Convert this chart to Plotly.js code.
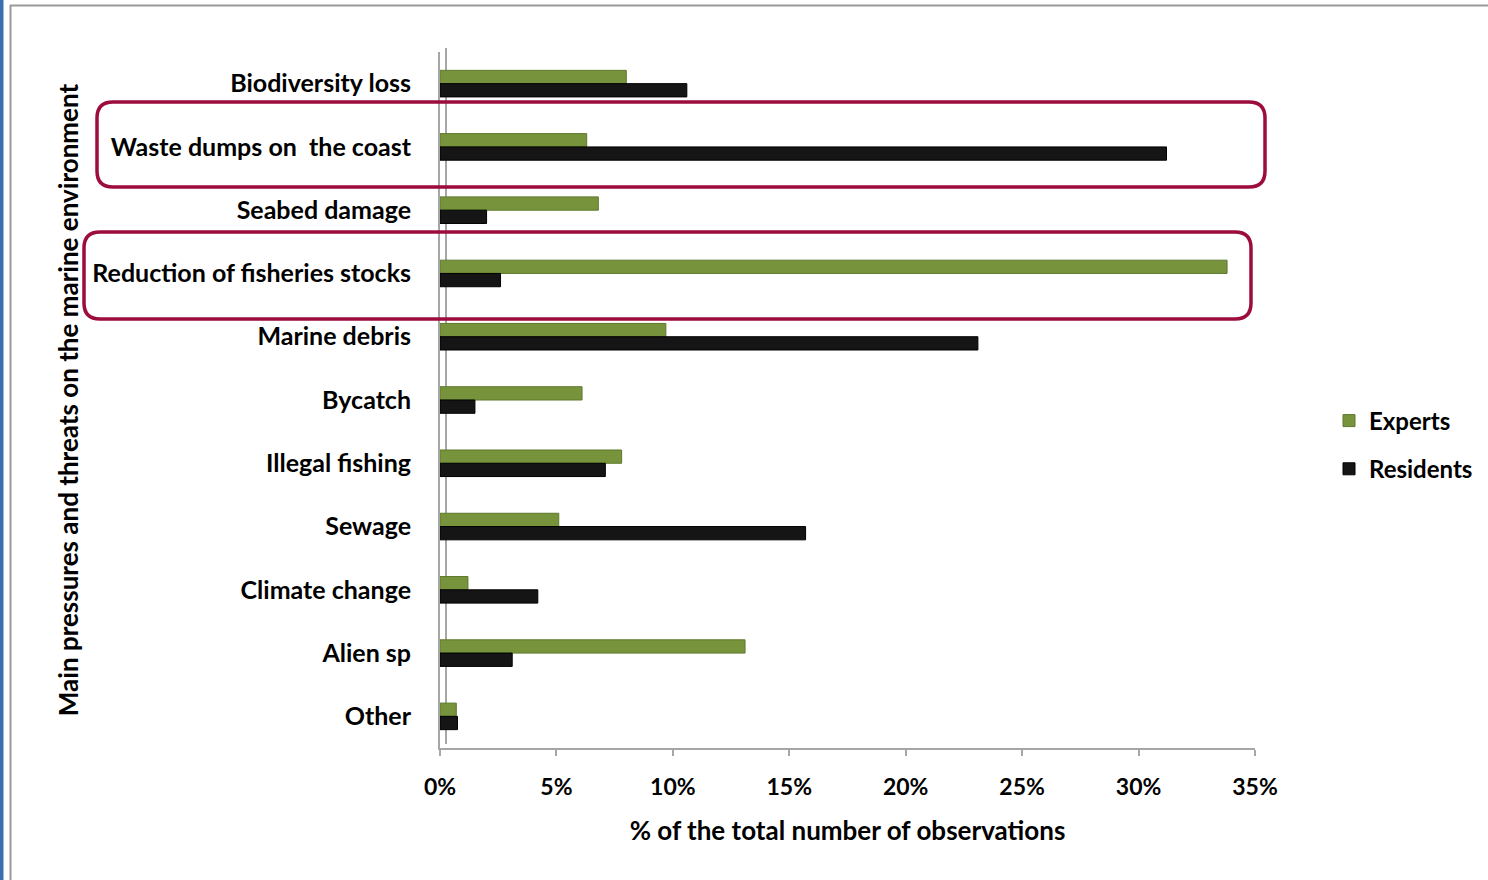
<!DOCTYPE html>
<html>
<head>
<meta charset="utf-8">
<script src="https://cdn.plot.ly/plotly-3.0.1.min.js"></script>
<style>html,body{margin:0;padding:0;background:#fff;}#chart{width:1488px;height:880px;}</style>
</head>
<body>
<div id="chart"></div>
<script>
const categories = ["Biodiversity loss","Waste dumps on  the coast","Seabed damage","Reduction of fisheries stocks","Marine debris","Bycatch","Illegal fishing","Sewage","Climate change","Alien sp","Other"];
const experts = [8.0, 6.3, 6.8, 33.8, 9.7, 6.1, 7.8, 5.1, 1.2, 13.1, 0.7];
const residents = [10.6, 31.2, 2.0, 2.6, 23.1, 1.5, 7.1, 15.7, 4.2, 3.1, 0.75];
const xTickVals = [0, 5, 10, 15, 20, 25, 30, 35];
const xTickText = ["0%", "5%", "10%", "15%", "20%", "25%", "30%", "35%"];

const W = 1488, H = 880;
const M = {l: 440, r: 233, t: 52, b: 132};
const PW = W - M.l - M.r, PH = H - M.t - M.b;
const px = x => (x - M.l) / PW;
const py = y => 1 - (y - M.t) / PH;

function roundRect(x0, y0, x1, y1, r) {
  const pts = [
    ['M', x0 + r, y0], ['L', x1 - r, y0], ['Q', x1, y0, x1, y0 + r],
    ['L', x1, y1 - r], ['Q', x1, y1, x1 - r, y1], ['L', x0 + r, y1],
    ['Q', x0, y1, x0, y1 - r], ['L', x0, y0 + r], ['Q', x0, y0, x0 + r, y0]
  ];
  return pts.map(p => {
    const c = p[0]; const a = p.slice(1);
    let s = c;
    for (let i = 0; i < a.length; i += 2) s += ' ' + px(a[i]).toFixed(5) + ',' + py(a[i + 1]).toFixed(5);
    return s;
  }).join(' ') + ' Z';
}

const font = "Lato, 'Open Sans', sans-serif";
const red = '#9c0c3c';

const data = [
  {type: 'bar', orientation: 'h', name: 'Experts', y: categories, x: experts, legendgroup: 'e',
   marker: {color: '#77933c', line: {color: '#5e7a2c', width: 1}}},
  {type: 'bar', orientation: 'h', name: 'Residents', y: categories, x: residents, legendgroup: 'r',
   marker: {color: '#151515', line: {color: '#000', width: 1}}}
];

const layout = {
  width: W, height: H,
  margin: M,
  paper_bgcolor: '#fff', plot_bgcolor: '#fff',
  barmode: 'group', bargap: 0.58, bargroupgap: 0,
  font: {family: font, color: '#000'},
  xaxis: {
    range: [0, 35], tickvals: xTickVals, ticktext: xTickText,
    showgrid: false, zeroline: false,
    showline: true, linecolor: '#a6a6a6', linewidth: 2,
    ticks: 'outside', ticklen: 6, tickcolor: '#a6a6a6', tickwidth: 2,
    ticklabelstandoff: 11,
    tickfont: {family: font, size: 23, weight: 'bold', color: '#000'},
    title: {text: '% of the total number of observations', standoff: 23,
            font: {family: font, size: 26, weight: 'bold', color: '#000'}}
  },
  yaxis: {
    autorange: 'reversed', type: 'category',
    showgrid: false, zeroline: false,
    showline: true, linecolor: '#a6a6a6', linewidth: 2,
    ticks: '', ticklabelstandoff: 22,
    tickfont: {family: font, size: 25, weight: 'bold', color: '#000'},
    title: {text: 'Main pressures and threats on the marine environment', standoff: 6,
            font: {family: font, size: 26, weight: 'bold', color: '#000'}}
  },
  legend: {xref: 'container', yref: 'container', x: 1329 / W, y: 1 - 445 / H, xanchor: 'left', yanchor: 'middle',
           font: {family: font, size: 24, weight: 'bold', color: '#000'},
           traceorder: 'grouped', tracegroupgap: 14, bgcolor: 'rgba(0,0,0,0)'},
  shapes: [
    {type: 'path', xref: 'paper', yref: 'paper', path: roundRect(97, 102, 1265, 187, 16), line: {color: red, width: 3.5}},
    {type: 'path', xref: 'paper', yref: 'paper', path: roundRect(84, 232, 1251, 319, 16), line: {color: red, width: 3.5}},
    {type: 'line', layer: 'below', xref: 'paper', yref: 'paper', x0: px(446), x1: px(446), y0: py(48), y1: py(744), line: {color: '#a6a6a6', width: 2}},
    {type: 'line', xref: 'paper', yref: 'paper', x0: px(1.5), x1: px(1.5), y0: py(0), y1: py(880), line: {color: '#3a6fb0', width: 4}},
    {type: 'line', xref: 'paper', yref: 'paper', x0: px(10.5), x1: px(10.5), y0: py(5), y1: py(880), line: {color: '#9a9a9a', width: 2}},
    {type: 'line', xref: 'paper', yref: 'paper', x0: px(10), x1: px(1488), y0: py(5.5), y1: py(5.5), line: {color: '#9a9a9a', width: 2}}
  ]
};

Plotly.newPlot('chart', data, layout, {displayModeBar: false, staticPlot: true});
</script>
</body>
</html>
